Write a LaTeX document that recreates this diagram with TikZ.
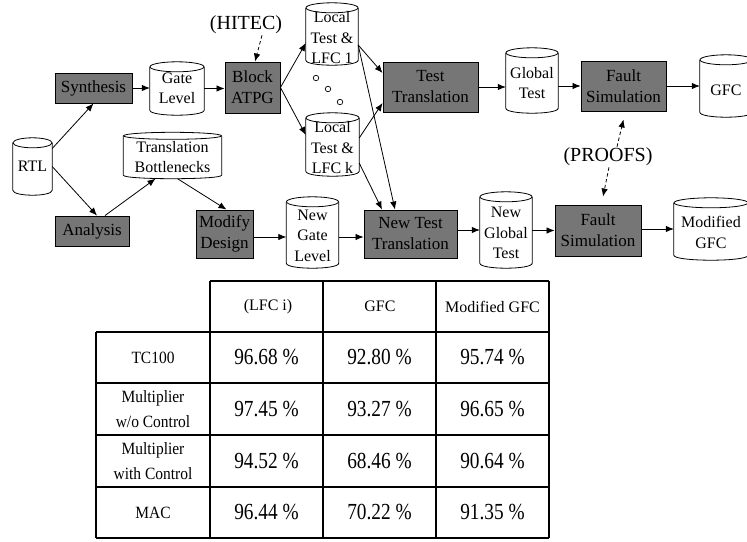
\documentclass[tikz,border=0pt]{standalone}
\usepackage{fontspec}
\setmainfont{Liberation Serif}
\newfontfamily\numfont[FakeStretch=0.84]{Liberation Serif}
\newfontfamily\labfont[FakeStretch=0.9]{Liberation Serif}
\usetikzlibrary{arrows.meta}
\definecolor{boxgray}{RGB}{118,118,118}

\newcommand\boxfont{\fontsize{17}{21}\selectfont}
\newcommand\drumfont{\fontsize{16}{20.5}\selectfont}

\tikzset{
  x=1pt, y=-1pt,
  stage/.style={draw, fill=boxgray, line width=0.9pt, align=center,
    inner sep=0pt, font=\boxfont},
  drumbody/.style={inner sep=0pt},
  drumtext/.style={align=center, inner sep=0pt, font=\drumfont},
  drumline/.style={line width=0.8pt},
  arr/.style={line width=0.8pt, -{Latex[length=8pt,width=6.5pt]}},
  dasharr/.style={arr, dash pattern=on 3.5pt off 2.5pt},
  tool/.style={inner sep=1pt, font=\fontsize{20}{22}\selectfont},
  dot/.style={circle, draw, line width=0.7pt, inner sep=0pt, minimum size=5.5pt},
  tab/.style={line width=1.1pt},
  head/.style={font=\fontsize{16}{20}\selectfont},
  rowlab/.style={align=center, font=\labfont\fontsize{17.2}{25}\selectfont},
  val/.style={font=\numfont\fontsize{23}{25}\selectfont}
}

% storage drum: name, x, y, width, height, text drop, lid radius, text
\newcommand\drum[8]{%
  \node[drumbody, minimum width=#4pt, minimum height=#5pt] (#1) at (#2,#3) {};
  \node[drumtext] (#1-t) at ([yshift=-#6pt]#1.center) {#8};
  \draw[drumline] ([yshift=-#7pt]#1.north) ellipse [x radius=#4pt/2, y radius=#7pt];
  \draw[drumline] ([yshift=-#7pt]#1.north west) -- ([yshift=#7pt]#1.south west)
    .. controls ([yshift=-#7pt/3]#1.south west) and ([yshift=-#7pt/3]#1.south east)
    .. ([yshift=#7pt]#1.south east) -- ([yshift=-#7pt]#1.north east);
}

\begin{document}
\begin{tikzpicture}
\useasboundingbox (0,0) rectangle (747,541);
\clip (0,0) rectangle (747,541);

% processing steps
\node[stage, minimum width=77pt, minimum height=30pt] (syn) at (93.5,88) {Synthesis};
\node[stage, minimum width=74pt, minimum height=30pt] (ana) at (92,231) {Analysis};
\node[stage, minimum width=55pt, minimum height=51pt] (batpg) at (252.5,87.5) {Block\\ATPG};
\node[stage, minimum width=57pt, minimum height=48pt] (moddes) at (224.5,234) {Modify\\Design};
\node[stage, minimum width=95pt, minimum height=50pt] (tt) at (430.5,87) {Test\\Translation};
\node[stage, minimum width=93pt, minimum height=48pt] (ntt) at (410.5,234) {New Test\\Translation};
\node[stage, minimum width=85pt, minimum height=50pt] (fs1) at (623.5,86) {Fault\\Simulation};
\node[stage, minimum width=86pt, minimum height=51pt] (fs2) at (598,230.5) {Fault\\Simulation};

% data
\drum{rtl}{32.5}{166.5}{39}{57}{0}{5}{RTL}
\drum{gate}{177}{88.5}{54}{53}{0}{5}{Gate\\Level}
\drum{tb}{172.5}{155.5}{98}{46}{1.5}{3.5}{Translation\\Bottlenecks}
\drum{loc1}{332}{34}{52}{62}{4}{5}{Local\\Test \&\\LFC 1}
\drum{lock}{332.5}{144.5}{53}{63}{3.5}{5}{Local\\Test \&\\LFC k}
\drum{ngl}{312.5}{232.5}{52}{71}{3}{5}{New\\Gate\\Level}
\drum{gt}{532}{80.5}{52}{65}{2.5}{5}{Global\\Test}
\drum{ngt}{506}{230}{52}{76}{3}{5}{New\\Global\\Test}
\drum{gfc}{726}{86}{52}{62}{4}{5}{GFC}
\drum{mgfc}{711}{229}{74}{62}{3.5}{5}{Modified\\GFC}

% tools
\node[tool] (hitec) at (246,25) {(HITEC)};
\node[tool] (proofs) at (608,157) {(PROOFS)};

% ellipsis between the local test sets
\node[dot] (d1) at (316,78) {};
\node[dot] (d2) at (328,89) {};
\node[dot] (d3) at (340,102) {};

% flow
\draw[arr] ([yshift=18pt]rtl.east) -- (syn.south);
\draw[arr] (rtl.east) -- ([xshift=5pt]ana.north);
\draw[arr] ([xshift=13pt]ana.north) -- ([xshift=-17pt]tb.south);
\draw[arr] ([xshift=5pt]tb.south) -- ([xshift=2pt]moddes.north);
\draw[arr] (syn.east) -- (syn.east -| gate.west);
\draw[arr] (gate.east) -- (gate.east -| batpg.west);
\draw[arr] (batpg.east) -- ([yshift=-9pt]loc1.west);
\draw[arr] (batpg.east) -- ([yshift=9.5pt]lock.west);
\draw[arr] ([yshift=-11pt]loc1.east) -- ([yshift=14pt]tt.west);
\draw[arr] ([yshift=6.5pt]lock.east) -- ([yshift=-16pt]tt.west);
\draw[arr] ([yshift=-11pt]loc1.east) -- ([xshift=-15.5pt]ntt.north);
\draw[arr] ([yshift=-18.5pt]lock.east) -- ([xshift=-28.5pt]ntt.north);
\draw[arr] ([yshift=-3pt]moddes.east) -- ([yshift=-3pt]moddes.east -| ngl.west);
\draw[arr] ([yshift=-3pt]ntt.west -| ngl.east) -- ([yshift=-3pt]ntt.west);
\draw[arr] (ntt.east |- ngt.west) -- (ngt.west);
\draw[arr] (ngt.east |- fs2.west) -- (fs2.west);
\draw[arr] (fs2.east |- mgfc.west) -- (mgfc.west);
\draw[arr] (tt.east) -- (tt.east -| gt.west);
\draw[arr] (gt.east |- fs1.west) -- (fs1.west);
\draw[arr] (fs1.east |- gfc.west) -- (gfc.west);

% tool hints
\draw[dasharr] ([xshift=16pt]hitec.south) -- ([xshift=2.5pt]batpg.north);
\draw[dasharr] ([xshift=9pt]proofs.north) -- ([yshift=-8pt]fs1.south);
\draw[dasharr] ([xshift=1pt]proofs.south) -- ([xshift=5pt,yshift=8pt]fs2.north);

% coverage table
\draw[tab] (210,281) -- (549,281);
\foreach \ry in {332,383,435,487,538} \draw[tab] (96,\ry) -- (549,\ry);
\draw[tab] (96,332) -- (96,538);
\foreach \cx in {210,323,436,549} \draw[tab] (\cx,281) -- (\cx,538);

\node[head] (h1) at (268,306.5) {(LFC i)};
\node[head] (h2) at (380,306.5) {GFC};
\node[head] (h3) at (492.5,306.5) {Modified GFC};

\node[rowlab] (r1) at (153,357.5) {TC100};
\node[rowlab] (r2) at (153,409) {Multiplier\\w/o Control};
\node[rowlab] (r3) at (153,461) {Multiplier\\with Control};
\node[rowlab] (r4) at (153,512.5) {MAC};

\node[val] (v11) at (266.5,357.5) {96.68 \%};
\node[val] (v12) at (379.5,357.5) {92.80 \%};
\node[val] (v13) at (492.5,357.5) {95.74 \%};
\node[val] (v21) at (266.5,409) {97.45 \%};
\node[val] (v22) at (379.5,409) {93.27 \%};
\node[val] (v23) at (492.5,409) {96.65 \%};
\node[val] (v31) at (266.5,461) {94.52 \%};
\node[val] (v32) at (379.5,461) {68.46 \%};
\node[val] (v33) at (492.5,461) {90.64 \%};
\node[val] (v41) at (266.5,512.5) {96.44 \%};
\node[val] (v42) at (379.5,512.5) {70.22 \%};
\node[val] (v43) at (492.5,512.5) {91.35 \%};
\end{tikzpicture}
\end{document}
